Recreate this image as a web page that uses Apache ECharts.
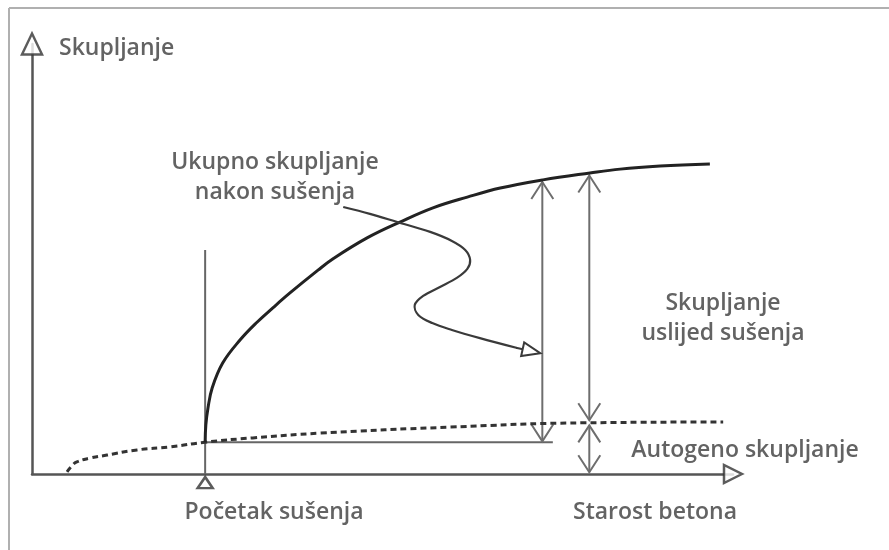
<!DOCTYPE html>
<html>
<head>
<meta charset="utf-8">
<script src="https://cdn.jsdelivr.net/npm/echarts@6/dist/echarts.min.js"></script>
<style>
  html, body { margin: 0; padding: 0; background: #fff; }
  #chart { width: 889px; height: 550px; }
</style>
</head>
<body>
<div id="chart"></div>
<script>
// ukupno skupljanje (puna krivulja), od pocetka susenja
var totalX = [24.7, 24.8, 25.1, 25.7, 27.2, 29.7, 32.1, 34.4, 36.8, 40.8, 42.9, 47.8, 52.5, 57.2, 62.1, 66.8, 72.9, 79.6, 83.9, 89.6, 96.7]
var totalY = [7.4, 11.4, 15.3, 20.0, 25.8, 31.2, 35.3, 38.7, 42.1, 47.4, 50.0, 54.9, 58.6, 61.9, 64.4, 66.5, 68.4, 70.0, 70.9, 71.6, 72.1]
// autogeno skupljanje (isprekidana krivulja)
var autoX = [5.0, 5.7, 6.4, 8.3, 10.7, 15.0, 19.7, 24.7, 31.5, 41.1, 59.6, 78.6, 98.6]
var autoY = [0.5, 1.9, 2.8, 3.7, 4.4, 5.6, 6.3, 7.4, 8.4, 9.5, 10.9, 11.9, 12.1]
// pocetak susenja
var dryStart = 24.7
var dryStartTop = 52.1
var baseLevel = 7.4
var baseEnd = 74.3
// kotne strelice: [x, y od, y do]
var dimArrows = [
    [72.8, 7.6, 67.9],
    [79.5, 12.5, 69.4],
    [79.5, 0.4, 11.3]
]
// vijugava strelica od teksta do kote
var leaderX = [44.4, 48.2, 52.1, 56.8, 59.9, 61.8, 62.5, 62.1, 60.6, 58.2, 55.8, 54.6, 55.1, 57.1, 59.9, 63.9, 69.2, 72.5]
var leaderY = [62.1, 60.5, 58.6, 56.3, 54.2, 52.1, 49.8, 47.7, 45.6, 43.5, 41.4, 39.3, 37.0, 35.1, 33.5, 31.6, 29.3, 28.1]
// trokuti: kraj osi y, kraj osi x, oznaka pocetka susenja
var markers = [[0, 100], [100, 0], [24.7, -2]]

var fontName = '"Open Sans", "Noto Sans", sans-serif'
var textFont = '600 23px ' + fontName
var textColor = '#636363'

function zip(xs, ys) {
    return xs.map(function(x, i) {
        return [x, ys[i]]
    })
}

var chart = echarts.init(document.getElementById('chart'), null, { renderer: 'canvas' })

var option = {
    animation: false,
    backgroundColor: '#fff',
    grid: { left: 32, right: 156, top: 44, bottom: 76 },
    xAxis: {
        type: 'value', min: 0, max: 100,
        axisLine: { show: true, lineStyle: { color: '#555', width: 2.5 } },
        axisTick: { show: false }, axisLabel: { show: false }, splitLine: { show: false }
    },
    yAxis: {
        type: 'value', min: 0, max: 100,
        axisLine: { show: true, lineStyle: { color: '#555', width: 2.5 } },
        axisTick: { show: false }, axisLabel: { show: false }, splitLine: { show: false }
    },
    graphic: [
        // okvir slike
        { type: 'line', shape: { x1: 9, y1: 8, x2: 889, y2: 8 }, style: { stroke: '#b0b0b0', lineWidth: 2 } },
        { type: 'line', shape: { x1: 9, y1: 8, x2: 9, y2: 550 }, style: { stroke: '#b0b0b0', lineWidth: 2 } },
        { type: 'text', x: 59, y: 48, style: { text: 'Skupljanje', font: textFont, fill: textColor, align: 'left', verticalAlign: 'middle' } },
        { type: 'text', x: 275, y: 177, style: { text: 'Ukupno skupljanje\nnakon sušenja', font: textFont, lineHeight: 30, fill: textColor, align: 'center', verticalAlign: 'middle' } },
        { type: 'text', x: 723, y: 318, style: { text: 'Skupljanje\nuslijed sušenja', font: textFont, lineHeight: 30, fill: textColor, align: 'center', verticalAlign: 'middle' } },
        { type: 'text', x: 745, y: 450, style: { text: 'Autogeno skupljanje', font: textFont, fill: textColor, align: 'center', verticalAlign: 'middle' } },
        { type: 'text', x: 274, y: 512, style: { text: 'Početak sušenja', font: textFont, fill: textColor, align: 'center', verticalAlign: 'middle' } },
        { type: 'text', x: 655, y: 512, style: { text: 'Starost betona', font: textFont, fill: textColor, align: 'center', verticalAlign: 'middle' } }
    ],
    series: [
        {
            name: 'pocetak',
            type: 'line',
            data: [[dryStart, 0], [dryStart, dryStartTop]],
            showSymbol: false,
            lineStyle: { color: '#666', width: 2 },
            z: 1
        },
        {
            name: 'osnova',
            type: 'line',
            data: [[dryStart, baseLevel], [baseEnd, baseLevel]],
            showSymbol: false,
            lineStyle: { color: '#666', width: 2 },
            z: 1
        },
        {
            name: 'autogeno',
            type: 'line',
            data: zip(autoX, autoY),
            smooth: true,
            showSymbol: false,
            lineStyle: { color: '#333', width: 3, type: [6, 4] },
            z: 3
        },
        {
            name: 'ukupno',
            type: 'line',
            data: zip(totalX, totalY),
            smooth: 0.4,
            showSymbol: false,
            lineStyle: { color: '#222', width: 3 },
            z: 4
        },
        {
            name: 'kote',
            type: 'custom',
            data: dimArrows,
            encode: { x: 0, y: [1, 2] },
            renderItem: function(params, api) {
                var bot = api.coord([api.value(0), api.value(1)])
                var top = api.coord([api.value(0), api.value(2)])
                var w = 11, h = 17
                var st = { stroke: '#6e6e6e', lineWidth: 2, fill: null }
                return {
                    type: 'group',
                    children: [
                        { type: 'line', shape: { x1: bot[0], y1: bot[1], x2: top[0], y2: top[1] }, style: st },
                        { type: 'polyline', shape: { points: [[top[0] - w, top[1] + h], top, [top[0] + w, top[1] + h]] }, style: st },
                        { type: 'polyline', shape: { points: [[bot[0] - w, bot[1] - h], bot, [bot[0] + w, bot[1] - h]] }, style: st }
                    ]
                }
            },
            z: 2
        },
        {
            name: 'vodilica',
            type: 'custom',
            data: [[leaderX[0], leaderY[0]]],
            renderItem: function(params, api) {
                var pts = leaderX.map(function(x, i) {
                    return api.coord([x, leaderY[i]])
                })
                var tip = pts[pts.length - 1]
                var prev = pts[pts.length - 2]
                var dx = tip[0] - prev[0], dy = tip[1] - prev[1]
                var len = Math.sqrt(dx * dx + dy * dy)
                var ux = dx / len, uy = dy / len
                var L = 18, W = 7
                var bx = tip[0] - ux * L, by = tip[1] - uy * L
                return {
                    type: 'group',
                    children: [
                        { type: 'polyline', shape: { points: pts.slice(0, -1).concat([[bx, by]]), smooth: 0.35 }, style: { stroke: '#3a3a3a', lineWidth: 2.2, fill: null } },
                        { type: 'polygon', shape: { points: [tip, [bx - uy * W, by + ux * W], [bx + uy * W, by - ux * W]] }, style: { stroke: '#3a3a3a', lineWidth: 2, fill: '#fff' } }
                    ]
                }
            },
            z: 5
        },
        {
            name: 'trokuti',
            type: 'scatter',
            data: markers,
            clip: false,
            symbol: 'triangle',
            symbolSize: function(val, params) {
                return [[20, 21], [18, 18], [15, 11]][params.dataIndex]
            },
            symbolRotate: function(val, params) {
                return params.dataIndex == 1 ? -90 : 0
            },
            itemStyle: { color: '#fff', borderColor: '#333', borderWidth: 2.5 },
            z: 6
        }
    ]
}

chart.setOption(option)
</script>
</body>
</html>
